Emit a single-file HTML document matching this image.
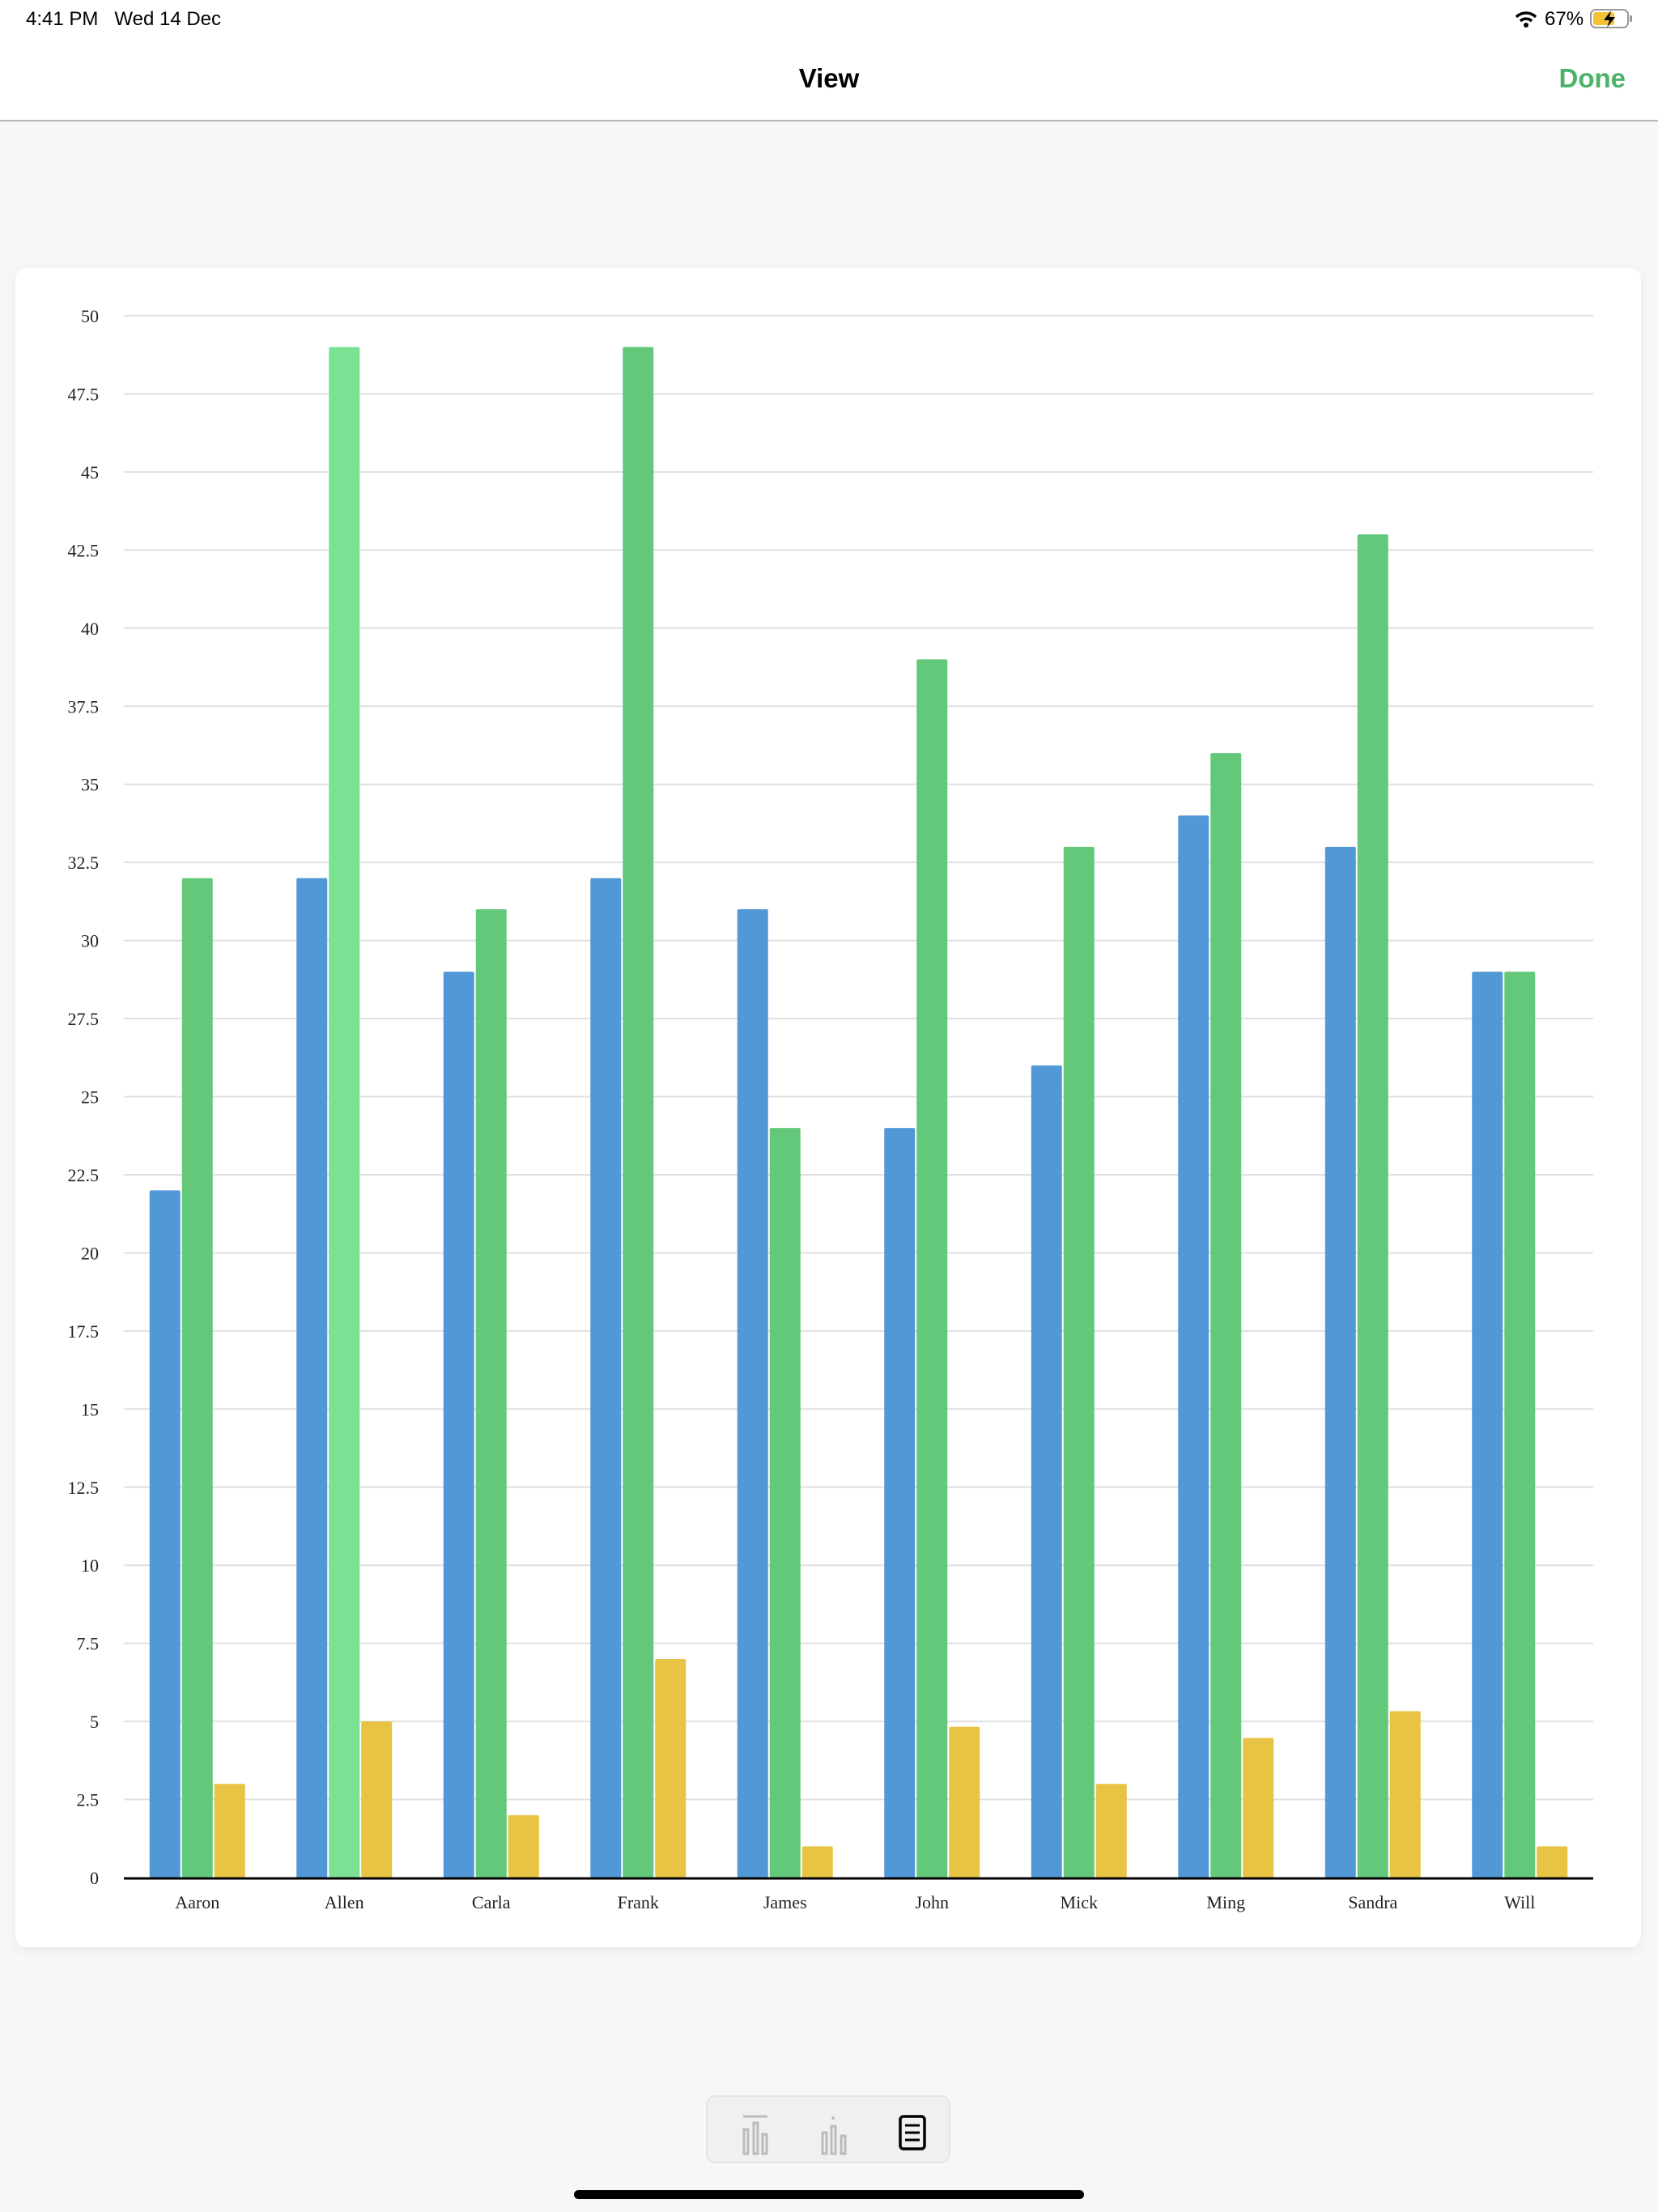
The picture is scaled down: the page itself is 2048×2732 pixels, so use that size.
<!DOCTYPE html>
<html><head><meta charset="utf-8"><style>
html,body{margin:0;padding:0;width:2048px;height:2732px;background:#f7f7f7;overflow:hidden;font-family:"Liberation Sans",sans-serif}
.top{position:absolute;left:0;top:0;width:2048px;height:148px;background:#fff;border-bottom:2px solid #b5b5b5}
.card{position:absolute;left:19px;top:331px;width:2008px;height:2074px;background:#fff;border-radius:14px;box-shadow:0 4px 14px rgba(0,0,0,0.06)}
</style></head><body>
<div class="top">
<div style="position:absolute;left:32px;top:10px;font-size:24px;color:#000">4:41 PM&nbsp;&nbsp; Wed 14 Dec</div>
<div style="position:absolute;left:1908px;top:10px;font-size:24px;color:#000">67%</div>
<svg style="position:absolute;left:1870px;top:12px" width="30" height="24"><path d="M3 9 A17 17 0 0 1 27 9" stroke="#000" stroke-width="3.5" fill="none"/><path d="M8 14 A10 10 0 0 1 22 14" stroke="#000" stroke-width="3.5" fill="none"/><circle cx="15" cy="19" r="3" fill="#000"/></svg>
<svg style="position:absolute;left:1964px;top:10px" width="56" height="28"><rect x="1" y="2" width="46" height="22" rx="6" fill="none" stroke="#999" stroke-width="2"/><rect x="4" y="5" width="26" height="16" rx="3" fill="#f2c232"/><rect x="49" y="9" width="3" height="8" rx="1" fill="#999"/><path d="M26 3 L17 15 L24 15 L21 24 L31 11 L24 11 Z" fill="#000"/></svg>
<div style="position:absolute;left:0;width:2048px;top:78px;text-align:center;font-size:33px;font-weight:bold;color:#000">View</div>
<div style="position:absolute;right:40px;top:78px;font-size:33px;font-weight:bold;color:#4cb26a">Done</div>
</div>
<div class="card"></div>
<svg id="ch" style="position:absolute;left:0;top:0" width="2048" height="2732"></svg>
<div style="position:absolute;left:872px;top:2588px;width:302px;height:84px;background:#f0f0f0;border:2px solid #e4e4e4;border-radius:12px;box-sizing:border-box"></div>
<svg style="position:absolute;left:872px;top:2588px" width="302" height="84">
<g stroke="#bbb" stroke-width="3" fill="none"><line x1="46" y1="26" x2="76" y2="26"/><rect x="47" y="42" width="5" height="30"/><rect x="59" y="34" width="5" height="38"/><rect x="70" y="48" width="5" height="24"/>
<rect x="144" y="46" width="5" height="26"/><rect x="155" y="38" width="5" height="34"/><rect x="167" y="50" width="5" height="22"/><line x1="157" y1="26" x2="157" y2="30"/></g>
<rect x="240" y="26" width="30" height="40" rx="4" fill="none" stroke="#000" stroke-width="3.5"/>
<g stroke="#000" stroke-width="3"><line x1="246" y1="37" x2="264" y2="37"/><line x1="246" y1="46" x2="264" y2="46"/><line x1="246" y1="55" x2="264" y2="55"/></g>
</svg>
<div style="position:absolute;left:709px;top:2705px;width:630px;height:11px;background:#000;border-radius:6px"></div>
<script>
var s='',z=2319,k=(2319-390)/50;
for(var i=0;i<=20;i++){var v=i*2.5,y=z-v*k;
 if(i>0)s+='<line x1="153" x2="1968" y1="'+y+'" y2="'+y+'" stroke="#e0e0e0" stroke-width="2"/>';
 s+='<text x="122" y="'+(y+8)+'" text-anchor="end" font-family="Liberation Serif,serif" font-size="22" fill="#222">'+v+'</text>';}
var d=[["Aaron",22,32,3],["Allen",32,49,5],["Carla",29,31,2],["Frank",32,49,7],["James",31,24,1],["John",24,39,4.83],["Mick",26,33,3],["Ming",34,36,4.47],["Sandra",33,43,5.33],["Will",29,29,1]];
var c=["#5398d6","#63c87a","#e7c444"];
d.forEach(function(r,g){var cx=153+181.5*(g+0.5),x0=cx-59;
 for(var j=0;j<3;j++){var h=r[j+1]*k,col=c[j];if(j==1&&g==1)col="#7ae292";
  s+='<rect x="'+(x0+j*40)+'" y="'+(z-h)+'" width="38" height="'+h+'" rx="2" fill="'+col+'"/>';}
 s+='<text x="'+cx+'" y="2357" text-anchor="middle" font-family="Liberation Serif,serif" font-size="22" fill="#222">'+r[0]+'</text>';});
s+='<line x1="153" x2="1968" y1="2320" y2="2320" stroke="#000" stroke-width="3"/>';
document.getElementById('ch').innerHTML=s;
</script>
</body></html>
